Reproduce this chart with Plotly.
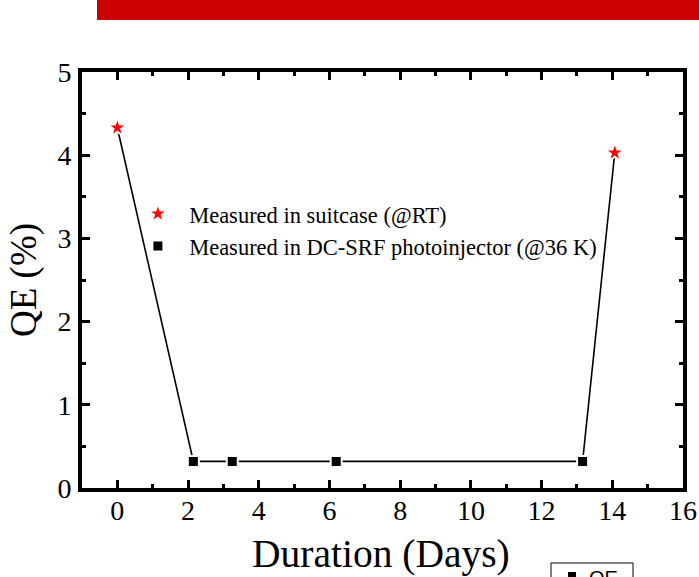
import plotly.graph_objects as go

# Data
suitcase_days = [0.0, 14.07]
suitcase_qe = [4.33, 4.03]
inj_days = [2.15, 3.25, 6.19, 13.16]
inj_qe = [0.32, 0.32, 0.32, 0.32]
line_days = [0.0, 2.15, 3.25, 6.19, 13.16, 14.07]
line_qe = [4.33, 0.32, 0.32, 0.32, 0.32, 4.03]
x_ticks = [0, 2, 4, 6, 8, 10, 12, 14, 16]
y_ticks = [0, 1, 2, 3, 4, 5]

FONT = "Liberation Serif"
NB = "\u00a0\u00a0"

fig = go.Figure()
fig.add_trace(go.Scatter(x=line_days, y=line_qe, mode="lines",
                         line=dict(color="black", width=1.6),
                         showlegend=False, hoverinfo="skip"))
fig.add_trace(go.Scatter(x=suitcase_days, y=suitcase_qe, mode="markers",
                         name=NB + "Measured in suitcase (@RT)",
                         marker=dict(symbol="star", size=15, color="#ff0000",
                                     line=dict(color="white", width=2))))
fig.add_trace(go.Scatter(x=inj_days, y=inj_qe, mode="markers",
                         name=NB + "Measured in DC-SRF photoinjector (@36 K)",
                         marker=dict(symbol="square", size=11, color="black",
                                     line=dict(color="white", width=2))))

tickfont = dict(family=FONT, size=28, color="black")

fig.update_layout(
    width=699, height=577,
    margin=dict(l=82, r=16, t=72, b=89, autoexpand=False),
    paper_bgcolor="white", plot_bgcolor="white",
    font=dict(family=FONT, size=28, color="black"),
    xaxis=dict(range=[-1, 16], tickmode="array", tickvals=x_ticks,
               ticktext=[str(v) for v in x_ticks],
               showline=True, linewidth=4, linecolor="black", mirror="allticks",
               ticks="inside", tickwidth=3, tickcolor="black", ticklen=8,
               showgrid=False, zeroline=False, automargin=False,
               tickfont=tickfont, ticklabelstandoff=-6,
               minor=dict(tickvals=list(range(-1, 17, 2)), ticks="inside",
                          ticklen=4, tickwidth=3, tickcolor="black", showgrid=False)),
    yaxis=dict(range=[0, 5], tickmode="array", tickvals=y_ticks,
               ticktext=[str(v) for v in y_ticks],
               showline=True, linewidth=4, linecolor="black", mirror="allticks",
               ticks="inside", tickwidth=3, tickcolor="black", ticklen=8,
               showgrid=False, zeroline=False, automargin=False,
               tickfont=tickfont, ticklabelstandoff=1,
               minor=dict(tickvals=[0.5, 1.5, 2.5, 3.5, 4.5], ticks="inside",
                          ticklen=4, tickwidth=3, tickcolor="black", showgrid=False)),
    legend=dict(x=0.093, y=0.71, xanchor="left", yanchor="top",
                bgcolor="rgba(0,0,0,0)", font=dict(family=FONT, size=22.5, color="black"),
                tracegroupgap=0, itemwidth=30),
    shapes=[
        dict(type="rect", xref="paper", yref="paper",
             x0=(97 - 82) / 601, x1=1.05, y0=(488 - 20) / 416, y1=1.3,
             fillcolor="#cc0000", line=dict(width=0), layer="above"),
        dict(type="rect", xref="paper", yref="paper",
             x0=(551 - 82) / 601, x1=(633 - 82) / 601,
             y0=(488 - 590) / 416, y1=(488 - 563) / 416,
             fillcolor="white", line=dict(color="black", width=1)),
        dict(type="rect", xref="paper", yref="paper",
             x0=(568 - 82) / 601, x1=(576 - 82) / 601,
             y0=(488 - 580) / 416, y1=(488 - 572) / 416,
             fillcolor="black", line=dict(width=0)),
    ],
    annotations=[
        dict(text="Duration (Days)", xref="paper", yref="paper",
             x=(381 - 82) / 601, y=(488 - 554) / 416, xanchor="center", yanchor="middle",
             showarrow=False, font=dict(family=FONT, size=39.5, color="black")),
        dict(text="QE (%)", xref="paper", yref="paper",
             x=(24 - 82) / 601, y=0.5, xanchor="center", yanchor="middle", textangle=-90,
             showarrow=False, font=dict(family=FONT, size=37, color="black")),
        dict(text="QE", xref="paper", yref="paper",
             x=(603 - 82) / 601, y=(488 - 565) / 416, xanchor="center", yanchor="top",
             showarrow=False, font=dict(family="Liberation Sans", size=20, color="black")),
    ],
)

fig.write_html("out.html")
